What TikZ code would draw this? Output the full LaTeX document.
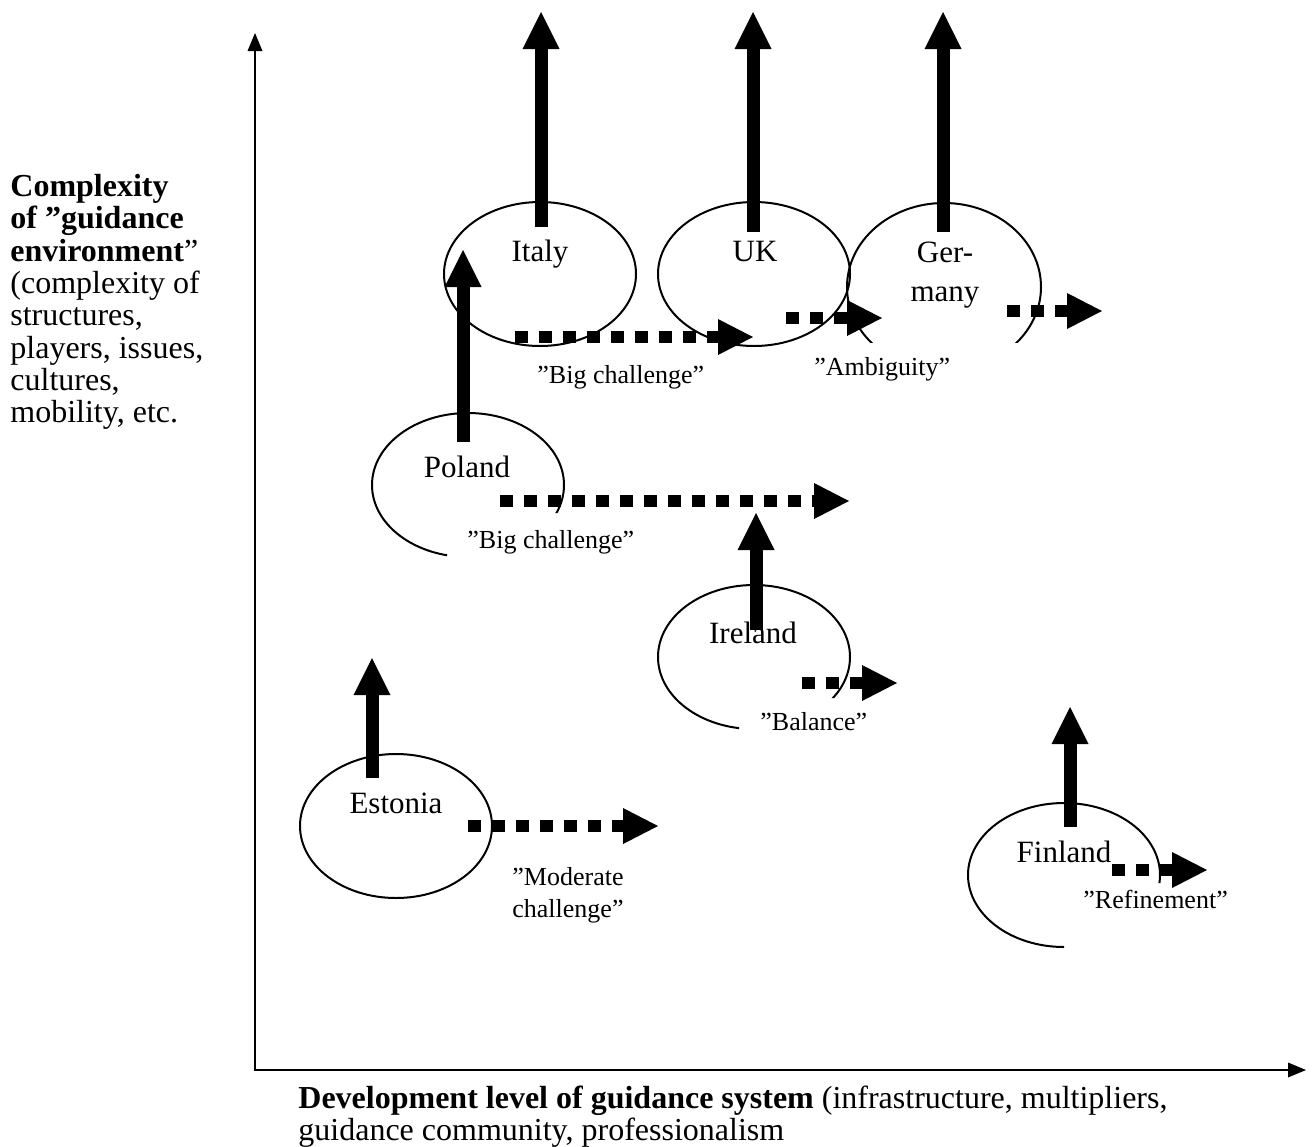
\documentclass[tikz,border=0pt]{standalone}
\usepackage{fontspec}
\setmainfont{Liberation Serif}
\usetikzlibrary{arrows.meta,shapes.geometric}
\begin{document}
\begin{tikzpicture}[x=0.5pt,y=-0.5pt,
  ring/.style={ellipse,draw,line width=1pt,inner sep=0pt,minimum width=96pt,minimum height=72pt},
  cname/.style={font=\fontsize{15.5}{19.5}\selectfont,anchor=base,inner sep=0pt},
  tag/.style={font=\fontsize{13}{16}\selectfont,anchor=base west,inner sep=0pt,align=left},
  uparr/.style={line width=6.5pt,-{Triangle[length=18.5pt,width=18.5pt,line width=0pt]}},
  dotarr/.style={line width=6pt,dash pattern=on 6.35pt off 5.65pt,-{Triangle[length=17.5pt,width=18pt,line width=0pt]}},
  axisarr/.style={line width=1pt,{Triangle[length=9pt,width=7.5pt,line width=0pt]}-{Triangle[length=9pt,width=7.5pt,line width=0pt]}},
  side/.style={font=\fontsize{16}{16.15}\selectfont,anchor=north west,inner sep=0pt,align=left}
]
\useasboundingbox (0,0) rectangle (1312,1146);

% axes
\coordinate (origin) at (255,1070);
\coordinate (ytip) at (255,33);
\coordinate (xtip) at (1306,1070);
\draw[axisarr] (ytip) -- (origin) -- (xtip);

% axis texts
\node[side] (ylabel) at (10,174) {\textbf{Complexity}\\\textbf{of ”guidance}\\\textbf{environment}”\\(complexity of\\structures,\\players, issues,\\cultures,\\mobility, etc.};
\node[side,font=\fontsize{16}{16}\selectfont] (xlabel) at (298,1086) {\textbf{Development level of guidance system} (infrastructure, multipliers,\\guidance community, professionalism};

% ellipses
\node[ring] (italy) at (540,274) {};
\node[ring] (uk) at (754,274) {};
\begin{scope}
  \clip (820,150) rectangle (1100,342);
  \node[ring,minimum width=97pt,minimum height=84pt] (germany) at (944,287) {};
\end{scope}
\begin{scope}
  \clip (300,380) -- (600,380) -- (600,513) -- (447,513) -- (447,600) -- (300,600) -- cycle;
  \node[ring] (poland) at (468,485) {};
\end{scope}
\begin{scope}
  \clip (600,560) -- (900,560) -- (900,698) -- (739,698) -- (739,760) -- (600,760) -- cycle;
  \node[ring] (ireland) at (754,657) {};
\end{scope}
\node[ring] (estonia) at (396,826) {};
\begin{scope}
  \clip (940,780) -- (1200,780) -- (1200,883) -- (1064,883) -- (1064,980) -- (940,980) -- cycle;
  \node[ring] (finland) at (1064,875) {};
\end{scope}

% country names
\node[cname] (italyT) at (540,261) {Italy};
\node[cname] (ukT) at (755,261) {UK};
\node[cname,anchor=north,align=center] (germanyT) at (945,242) {Ger-\\many};
\node[cname] (polandT) at (467,477) {Poland};
\node[cname] (irelandT) at (753,643) {Ireland};
\node[cname] (estoniaT) at (396,813) {Estonia};
\node[cname] (finlandT) at (1064,862) {Finland};

% vertical arrows
\coordinate (italyA0) at (541,227);   \coordinate (italyA1) at (541,12);
\coordinate (ukA0) at (753,232);      \coordinate (ukA1) at (753,12);
\coordinate (germanyA0) at (943,232); \coordinate (germanyA1) at (943,12);
\coordinate (polandA0) at (463,442);  \coordinate (polandA1) at (463,250);
\coordinate (irelandA0) at (756,630); \coordinate (irelandA1) at (756,513);
\coordinate (estoniaA0) at (372,778); \coordinate (estoniaA1) at (372,658);
\coordinate (finlandA0) at (1070,827);\coordinate (finlandA1) at (1070,707);
\draw[uparr] (italyA0) -- (italyA1);
\draw[uparr] (ukA0) -- (ukA1);
\draw[uparr] (germanyA0) -- (germanyA1);
\draw[uparr] (polandA0) -- (polandA1);
\draw[uparr] (irelandA0) -- (irelandA1);
\draw[uparr] (estoniaA0) -- (estoniaA1);
\draw[uparr] (finlandA0) -- (finlandA1);

% dotted arrows
\coordinate (italyD0) at (515,337);   \coordinate (italyD1) at (753,337);
\coordinate (ukD0) at (786,318);      \coordinate (ukD1) at (882,318);
\coordinate (germanyD0) at (1007,311);\coordinate (germanyD1) at (1102,311);
\coordinate (polandD0) at (500,501);  \coordinate (polandD1) at (849,501);
\coordinate (irelandD0) at (802,683); \coordinate (irelandD1) at (897,683);
\coordinate (estoniaD0) at (468,826); \coordinate (estoniaD1) at (658,826);
\coordinate (finlandD0) at (1112,870);\coordinate (finlandD1) at (1207,870);
\draw[dotarr] (italyD0) -- (italyD1);
\draw[dotarr] (ukD0) -- (ukD1);
\draw[dotarr] (germanyD0) -- (germanyD1);
\draw[dotarr] (polandD0) -- (polandD1);
\draw[dotarr] (irelandD0) -- (irelandD1);
\draw[dotarr] (estoniaD0) -- (estoniaD1);
\draw[dotarr] (finlandD0) -- (finlandD1);

% tags
\node[tag] (italyL) at (537,383) {”Big challenge”};
\node[tag] (ukL) at (814,375) {”Ambiguity”};
\node[tag] (polandL) at (467,548) {”Big challenge”};
\node[tag] (irelandL) at (760,730) {”Balance”};
\node[tag,anchor=north west] (estoniaL) at (512,867) {”Moderate\\challenge”};
\node[tag] (finlandL) at (1083,908) {”Refinement”};
\end{tikzpicture}
\end{document}
